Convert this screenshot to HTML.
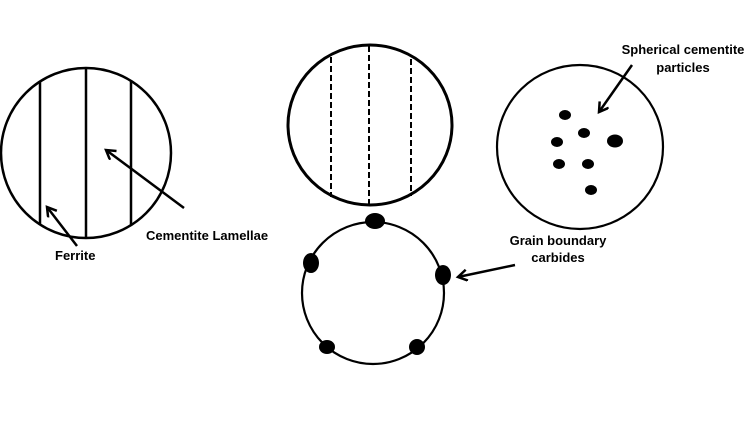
<!DOCTYPE html>
<html><head><meta charset="utf-8"><style>
html,body{margin:0;padding:0;background:#fff;}
svg{display:block;}
text{font-family:"Liberation Sans",sans-serif;font-weight:bold;font-size:13px;fill:#000;}
</style></head><body>
<svg width="750" height="422" viewBox="0 0 750 422" xmlns="http://www.w3.org/2000/svg">
<defs>
<marker id="ah" markerWidth="14" markerHeight="14" refX="11" refY="6" orient="auto" markerUnits="userSpaceOnUse">
<path d="M2,0.5 L11,6 L2,11.5" fill="none" stroke="#000" stroke-width="2.5" stroke-linejoin="miter"/>
</marker>
</defs>
<!-- Left circle -->
<circle cx="86" cy="153" r="85" fill="none" stroke="#000" stroke-width="2.5"/>
<line x1="40" y1="81" x2="40" y2="225" stroke="#000" stroke-width="2.5"/>
<line x1="86" y1="68" x2="86" y2="238" stroke="#000" stroke-width="2.5"/>
<line x1="131" y1="81" x2="131" y2="225" stroke="#000" stroke-width="2.5"/>
<line x1="184" y1="208" x2="106" y2="150" stroke="#000" stroke-width="2.5" marker-end="url(#ah)"/>
<line x1="77" y1="246" x2="47" y2="207" stroke="#000" stroke-width="2.5" marker-end="url(#ah)"/>
<text x="146" y="240">Cementite Lamellae</text>
<text x="55" y="260">Ferrite</text>
<!-- Top middle circle -->
<ellipse cx="370" cy="125" rx="82" ry="80" fill="none" stroke="#000" stroke-width="3"/>
<line x1="331" y1="57" x2="331" y2="197" stroke="#000" stroke-width="2" stroke-dasharray="6,3"/>
<line x1="369" y1="46" x2="369" y2="205" stroke="#000" stroke-width="2" stroke-dasharray="6,3"/>
<line x1="411" y1="59" x2="411" y2="196" stroke="#000" stroke-width="2" stroke-dasharray="6,3"/>
<!-- Bottom middle circle -->
<circle cx="373" cy="293" r="71" fill="none" stroke="#000" stroke-width="2.2"/>
<ellipse cx="375" cy="221" rx="10" ry="8"/>
<ellipse cx="311" cy="263" rx="8" ry="10"/>
<ellipse cx="443" cy="275" rx="8" ry="10"/>
<ellipse cx="327" cy="347" rx="8" ry="7"/>
<ellipse cx="417" cy="347" rx="8" ry="8"/>
<line x1="515" y1="265" x2="458" y2="277" stroke="#000" stroke-width="2.5" marker-end="url(#ah)"/>
<text x="558" y="245" text-anchor="middle">Grain boundary</text>
<text x="558" y="262" text-anchor="middle">carbides</text>
<!-- Right circle -->
<ellipse cx="580" cy="147" rx="83" ry="82" fill="none" stroke="#000" stroke-width="2.2"/>
<ellipse cx="565" cy="115" rx="6" ry="5"/>
<ellipse cx="584" cy="133" rx="6" ry="5"/>
<ellipse cx="557" cy="142" rx="6" ry="5"/>
<ellipse cx="615" cy="141" rx="8" ry="6.5"/>
<ellipse cx="559" cy="164" rx="6" ry="5"/>
<ellipse cx="588" cy="164" rx="6" ry="5"/>
<ellipse cx="591" cy="190" rx="6" ry="5"/>
<line x1="632" y1="65" x2="599" y2="112" stroke="#000" stroke-width="2.5" marker-end="url(#ah)"/>
<text x="683" y="54" text-anchor="middle">Spherical cementite</text>
<text x="683" y="72" text-anchor="middle">particles</text>
</svg>
</body></html>
